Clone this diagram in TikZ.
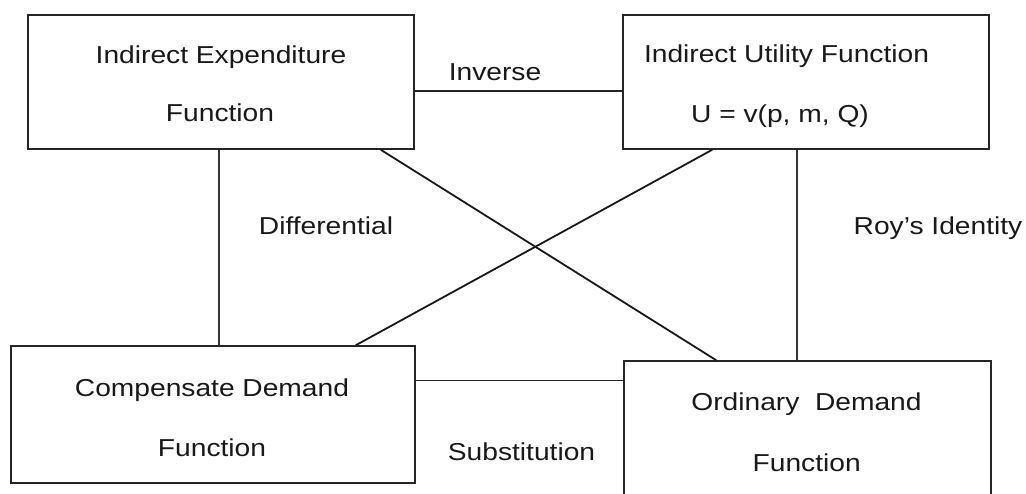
\documentclass[tikz,border=0pt]{standalone}
\usepackage{fontspec}
\setmainfont{Liberation Sans}[FakeStretch=1.15]
\usepackage{tikz}
\tikzset{
  fnbox/.style={draw=black!85,line width=1.5pt,rectangle,inner sep=0pt},
  hlink/.style={draw=black!85,line width=1.5pt},
  vlink/.style={draw=black!80,line width=1.1pt},
  xlink/.style={draw=black!90,line width=1.8pt},
}

\begin{document}
\begin{tikzpicture}[
  x=1pt,y=1pt,
  every node/.style={font=\fontsize{24.5}{29}\selectfont,text=black!90}
]
\clip (0,0) rectangle (1026,493);

% the four functions
\node[fnbox,minimum width=386pt,minimum height=134pt] (ief) at (221,411) {};
\node[fnbox,minimum width=366pt,minimum height=134pt] (iuf) at (806,411) {};
\node[fnbox,minimum width=404pt,minimum height=137pt] (cdf) at (213,78.5) {};
\node[fnbox,minimum width=367pt,minimum height=138pt] (odf) at (807.5,63) {};

\node[anchor=base] (ief1) at (221,429) {Indirect Expenditure};
\node[anchor=base] (ief2) at (220,371) {Function};
\node[anchor=base] (iuf1) at (786.5,430) {Indirect Utility Function};
\node[anchor=base] (iuf2) at (780,370) {U = v(p, m, Q)};
\node[anchor=base] (cdf1) at (212,96) {Compensate Demand};
\node[anchor=base] (cdf2) at (212,37) {Function};
\node[anchor=base] (odf1) at (806.5,82) {Ordinary~~Demand};
\node[anchor=base] (odf2) at (806.7,22) {Function};

% relations
\node[anchor=base] (inv) at (495,412) {Inverse};
\node[anchor=base] (diff) at (326,258) {Differential};
\node[anchor=base] (roy) at (938,258) {Roy's Identity};
\node[anchor=base] (subst) at (521.5,33) {Substitution};

\path
([yshift=-9pt]ief.east) edge[hlink] ([yshift=-9pt]ief.east -| iuf.west)
([yshift=34pt]cdf.east) edge[hlink] ([yshift=34pt]cdf.east -| odf.west)

([xshift=-2pt]ief.south) edge[vlink] ([xshift=-2pt]ief.south |- cdf.north)
([xshift=-9pt]iuf.south) edge[vlink] ([xshift=-9pt]iuf.south |- odf.north)

([xshift=-34pt]ief.south east) edge[xlink] ([xshift=93pt]odf.north west)
([xshift=90pt]iuf.south west) edge[xlink] ([xshift=-60pt]cdf.north east);

\end{tikzpicture}
\end{document}
